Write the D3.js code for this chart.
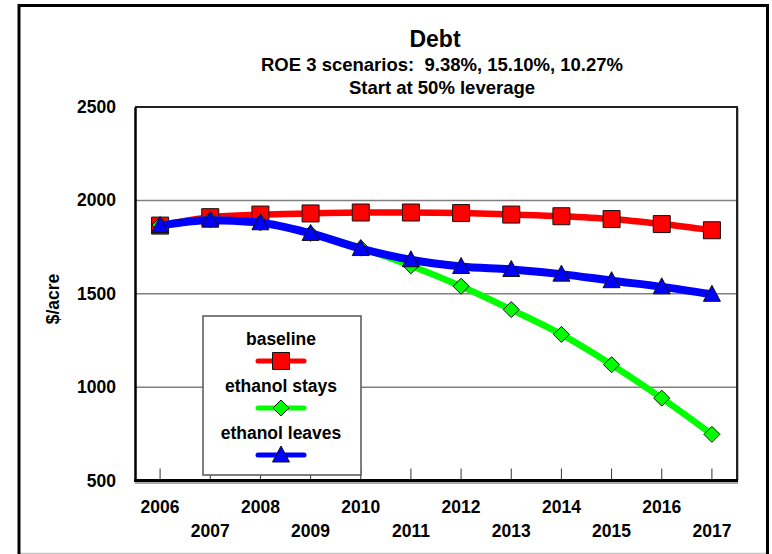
<!DOCTYPE html>
<html>
<head>
<meta charset="utf-8">
<script src="https://cdn.jsdelivr.net/npm/d3@7/dist/d3.min.js"></script>
<style>
  html, body { margin: 0; padding: 0; background: #fff; }
  svg { display: block; font-family: "Liberation Sans", Arial, sans-serif; font-weight: bold; }
</style>
</head>
<body>
<svg id="chart" width="772" height="554"></svg>
<script>
// Years on the category axis
const years = [2006, 2007, 2008, 2009, 2010, 2011, 2012, 2013, 2014, 2015, 2016, 2017];

// Debt per acre under each scenario ($/acre)
const baseline      = [1865, 1910, 1924, 1930, 1935, 1935, 1932, 1924, 1915, 1900, 1873, 1840];
const ethanolStays  = [1868, 1896, 1880, 1823, 1745, 1650, 1540, 1415, 1282, 1120, 941, 747];
const ethanolLeaves = [1865, 1894, 1880, 1823, 1742, 1682, 1646, 1630, 1605, 1570, 1537, 1497];

const yTicks = [500, 1000, 1500, 2000, 2500];

const seriesNames = ["baseline", "ethanol stays", "ethanol leaves"];
const seriesColors = ["#ff0000", "#00ff00", "#0000ff"];
const seriesValues = [baseline, ethanolStays, ethanolLeaves];

const svg = d3.select("#chart");

const plot = { left: 135, right: 737, top: 107, bottom: 480.5 };

const x = d3.scaleBand().domain(years).range([plot.left, plot.right]).padding(0);
const cx = d => x(d) + x.bandwidth() / 2;
const y = d3.scaleLinear().domain([500, 2500]).range([plot.bottom, plot.top]);

// Outer frame
svg.append("line").attr("x1", 19).attr("x2", 768).attr("y1", 553.5).attr("y2", 553.5)
  .attr("stroke", "#c8c8c8").attr("stroke-width", 1.5);
svg.append("path")
  .attr("d", `M19,560 L19,5.5 L767.5,5.5 L767.5,560`)
  .attr("fill", "none").attr("stroke", "#000").attr("stroke-width", 3);

// Titles
svg.append("text").attr("x", 435).attr("y", 47).attr("text-anchor", "middle")
  .attr("font-size", 23).text("Debt");
svg.append("text").attr("x", 442).attr("y", 71).attr("text-anchor", "middle")
  .attr("font-size", 18.5).attr("xml:space", "preserve")
  .text("ROE 3 scenarios:  9.38%, 15.10%, 10.27%");
svg.append("text").attr("x", 442).attr("y", 94).attr("text-anchor", "middle")
  .attr("font-size", 18.5).text("Start at 50% leverage");

// Gridlines
svg.append("g").selectAll("line")
  .data(yTicks.filter(t => t > 500 && t < 2500))
  .join("line")
  .attr("x1", plot.left).attr("x2", plot.right)
  .attr("y1", d => y(d)).attr("y2", d => y(d))
  .attr("stroke", "#808080").attr("stroke-width", 1.5);

// Plot frame: top and right edges
svg.append("path")
  .attr("d", `M${plot.left},${plot.top} L${plot.right},${plot.top} L${plot.right},${plot.bottom}`)
  .attr("fill", "none").attr("stroke", "#222").attr("stroke-width", 2);
svg.append("line").attr("x1", plot.right + 1.5).attr("x2", plot.right + 1.5)
  .attr("y1", plot.top + 1).attr("y2", plot.bottom).attr("stroke", "#bbb").attr("stroke-width", 1);

// Y axis
const yAxis = d3.axisLeft(y).tickValues(yTicks).tickSize(0).tickPadding(19).tickFormat(d3.format("d"));
const gy = svg.append("g").attr("transform", `translate(${plot.left},0)`).call(yAxis);
gy.select(".domain").attr("stroke", "#000").attr("stroke-width", 2.5);
gy.selectAll("text").attr("font-size", 17.5).attr("font-weight", "bold")
  .attr("font-family", "Liberation Sans, Arial, sans-serif").attr("fill", "#000");

// X axis: inward tick marks, staggered labels
const xAxis = d3.axisTop(x).tickSize(12).tickFormat("");
const gx = svg.append("g").attr("transform", `translate(0,${plot.bottom})`).call(xAxis);
gx.select(".domain").remove();
gx.selectAll(".tick line").attr("stroke", "#333").attr("stroke-width", 1);

svg.append("line").attr("x1", plot.left).attr("x2", plot.right + 1)
  .attr("y1", plot.bottom + 2.5).attr("y2", plot.bottom + 2.5)
  .attr("stroke", "#aaa").attr("stroke-width", 2);
svg.append("line").attr("x1", plot.left - 1).attr("x2", plot.right + 1)
  .attr("y1", plot.bottom).attr("y2", plot.bottom)
  .attr("stroke", "#000").attr("stroke-width", 3);

svg.append("g").selectAll("text").data(years).join("text")
  .attr("x", d => cx(d))
  .attr("y", (d, i) => i % 2 === 0 ? 513 : 537)
  .attr("text-anchor", "middle").attr("font-size", 17.5)
  .text(d => d);

// Y axis title
svg.append("text")
  .attr("transform", "translate(59,299) rotate(-90)")
  .attr("text-anchor", "middle").attr("font-size", 17.5).text("$/acre");

// Legend box (drawn before the series so lines pass over it)
const legend = { x: 203, y: 316, w: 158, h: 159 };
svg.append("rect").attr("x", legend.x).attr("y", legend.y).attr("width", legend.w).attr("height", legend.h)
  .attr("fill", "#fff").attr("stroke", "#555").attr("stroke-width", 1.5);

// Marker shapes: square, square-proportioned diamond, triangle
const markerPaths = [
  "M-8.5,-8.5H8.5V8.5H-8.5Z",
  "M0,-8L8,0L0,8L-8,0Z",
  "M0,-9L8.5,7L-8.5,7Z"
];
const lineWidths = [6.5, 6.5, 8];

const line = d3.line()
  .x((d, i) => cx(years[i]))
  .y(d => y(d))
  .curve(d3.curveMonotoneX);

seriesValues.forEach((vals, s) => {
  const g = svg.append("g");
  g.append("path").datum(vals)
    .attr("d", line)
    .attr("fill", "none").attr("stroke", seriesColors[s])
    .attr("stroke-width", lineWidths[s]).attr("stroke-linejoin", "round");
  g.selectAll("path.mark").data(vals).join("path").attr("class", "mark")
    .attr("transform", (d, i) => `translate(${cx(years[i])},${y(d)})`)
    .attr("d", markerPaths[s])
    .attr("fill", seriesColors[s]).attr("stroke", "#111").attr("stroke-width", 1);
});

// Legend entries
const legendCx = 281;
seriesNames.forEach((name, s) => {
  const ty = 345 + s * 47;
  svg.append("text").attr("x", legendCx).attr("y", ty).attr("text-anchor", "middle")
    .attr("font-size", 17.5).text(name);
  const ly = ty + 16;
  svg.append("line").attr("x1", 258).attr("x2", 304).attr("y1", ly).attr("y2", ly)
    .attr("stroke", seriesColors[s]).attr("stroke-width", 5).attr("stroke-linecap", "round");
  svg.append("path")
    .attr("transform", `translate(${legendCx},${ly})`)
    .attr("d", markerPaths[s])
    .attr("fill", seriesColors[s]).attr("stroke", "#111").attr("stroke-width", 1);
});
</script>
</body>
</html>
